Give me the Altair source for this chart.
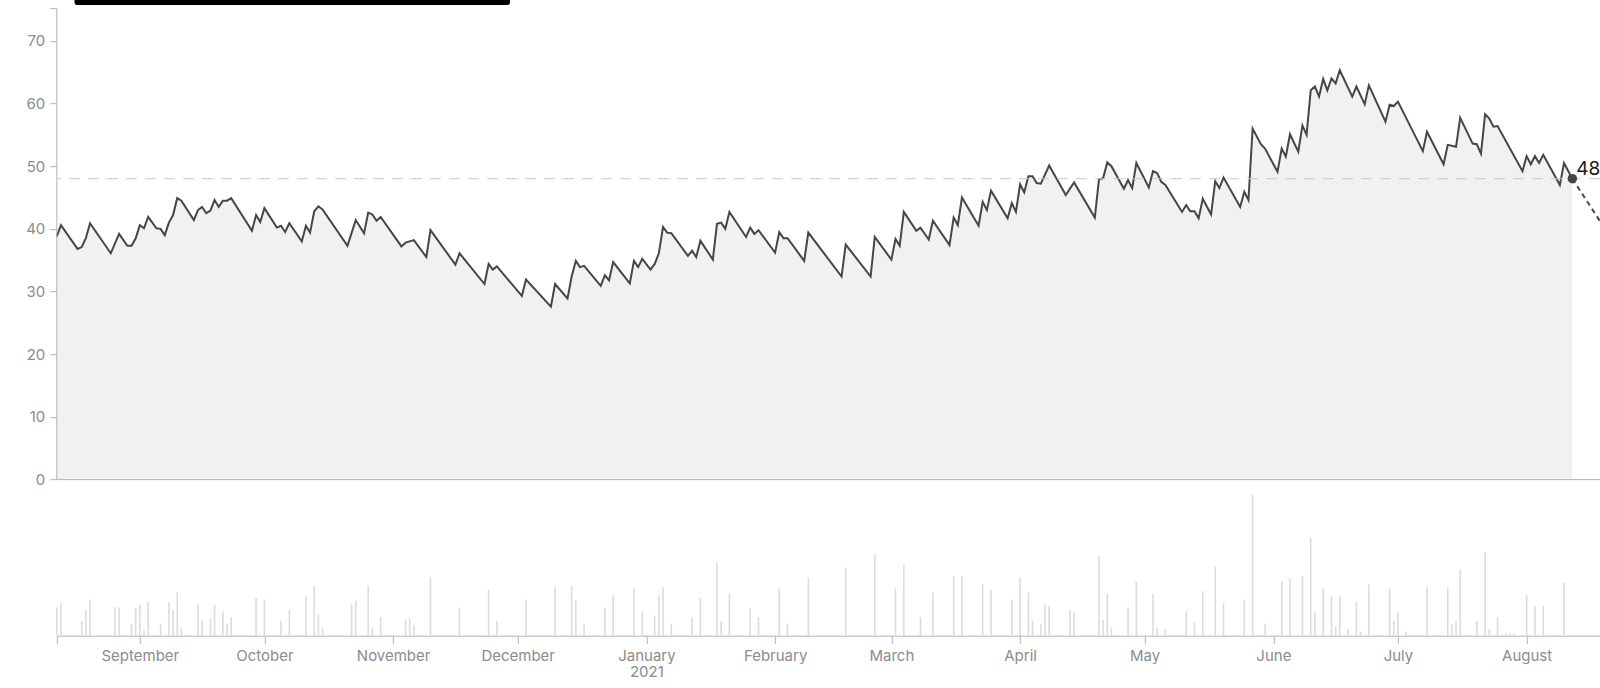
import altair as alt
import pandas as pd

START = pd.Timestamp("2020-08-12")

# ---- main series (turning points), day offset from 2020-08-12 ----
line_days = [0, 1, 5, 6, 7, 8, 13, 15, 17, 18, 19, 20, 21, 22, 24, 25, 26, 27, 28, 29, 30,
             33, 34, 35, 36, 37, 38, 39, 40, 41, 42, 47, 48, 49, 50, 53, 54, 55, 56, 59, 60,
             61, 62, 63, 64, 70, 72, 74, 75, 76, 77, 78, 83, 84, 86, 89, 90, 96, 97, 103, 104,
             105, 106, 112, 113, 119, 120, 123, 124, 125, 126, 127, 131, 132, 133, 134, 138,
             139, 140, 141, 143, 144, 145, 146, 147, 148, 152, 153, 154, 155, 158, 159, 160,
             161, 162, 166, 167, 168, 169, 173, 174, 175, 176, 180, 181, 189, 190, 196, 197,
             201, 202, 203, 204, 207, 208, 210, 211, 215, 216, 217, 218, 222, 223, 224, 225,
             229, 230, 231, 232, 233, 234, 235, 236, 237, 239, 243, 245, 250, 251, 252, 253,
             254, 257, 258, 259, 260, 263, 264, 265, 266, 267, 271, 272, 273, 274, 275, 276,
             278, 279, 280, 281, 285, 286, 287, 288, 290, 291, 294, 295, 296, 297, 299, 300,
             301, 302, 303, 304, 305, 306, 307, 308, 309, 312, 313, 315, 316, 320, 321, 322,
             323, 329, 330, 334, 335, 337, 338, 341, 342, 343, 344, 345, 346, 347, 353, 354,
             355, 356, 357, 358, 362, 363, 365]
line_values = [38.8, 40.6, 36.8, 37.1, 38.5, 40.9, 36.1, 39.2, 37.3, 37.3, 38.5, 40.6, 40.1,
               41.9, 40.1, 40.0, 39.0, 41.0, 42.2, 44.9, 44.5, 41.4, 43.0, 43.5, 42.5, 42.9,
               44.6, 43.5, 44.5, 44.5, 44.9, 39.7, 42.2, 41.1, 43.3, 40.2, 40.5, 39.5, 40.9,
               38.0, 40.5, 39.4, 42.8, 43.6, 43.1, 37.3, 41.4, 39.3, 42.6, 42.3, 41.3, 41.9,
               37.2, 37.8, 38.2, 35.5, 39.8, 34.3, 36.1, 31.2, 34.4, 33.5, 34.0, 29.3, 31.9,
               27.6, 31.2, 28.9, 32.4, 34.9, 33.9, 34.1, 30.9, 32.6, 31.8, 34.7, 31.3, 34.9,
               33.9, 35.2, 33.5, 34.4, 36.1, 40.3, 39.4, 39.3, 35.7, 36.5, 35.5, 38.1, 35.1,
               40.8, 41.0, 40.0, 42.7, 38.7, 40.2, 39.2, 39.8, 36.2, 39.5, 38.5, 38.5, 34.9,
               39.4, 32.4, 37.5, 32.4, 38.7, 35.1, 38.4, 37.3, 42.7, 39.7, 40.2, 38.3, 41.3,
               37.4, 41.8, 40.6, 45.0, 40.5, 44.3, 43.0, 46.1, 41.7, 44.1, 42.7, 47.1, 45.8,
               48.4, 48.4, 47.3, 47.2, 50.1, 45.4, 47.4, 41.8, 47.9, 48.1, 50.6, 50.0, 46.4,
               47.8, 46.5, 50.5, 46.6, 49.2, 48.9, 47.5, 47.0, 42.7, 43.8, 42.8, 42.8, 41.7,
               44.8, 42.3, 47.6, 46.5, 48.2, 43.5, 45.9, 44.6, 56.0, 53.5, 52.8, 49.1, 52.8,
               51.5, 55.1, 52.3, 56.5, 55.0, 62.1, 62.7, 61.1, 63.9, 62.1, 64.0, 63.2, 65.3,
               61.1, 62.7, 59.9, 62.9, 57.1, 59.8, 59.6, 60.3, 52.4, 55.5, 50.3, 53.4, 53.1,
               57.7, 53.6, 53.5, 52.0, 58.3, 57.6, 56.3, 56.4, 49.2, 51.6, 50.3, 51.6, 50.5,
               51.8, 47.0, 50.5, 48.0]

# ---- activity bars ----
vol_days = [0, 1, 6, 7, 8, 14, 15, 18, 19, 20, 21, 22, 25, 27, 28, 29, 30, 34, 35, 37, 38,
            40, 41, 42, 48, 50, 54, 56, 60, 62, 63, 64, 71, 72, 75, 76, 78, 84, 85, 86, 90,
            97, 104, 106, 113, 120, 124, 125, 127, 132, 134, 139, 141, 144, 145, 146, 148,
            153, 155, 159, 160, 162, 167, 169, 174, 176, 181, 190, 197, 202, 204, 208, 211,
            216, 218, 223, 225, 230, 232, 234, 235, 237, 238, 239, 244, 245, 251, 252, 253,
            254, 258, 260, 264, 265, 267, 272, 274, 276, 279, 281, 286, 288, 291, 294, 295,
            297, 300, 302, 303, 305, 307, 308, 309, 311, 313, 314, 316, 321, 322, 323, 325,
            330, 335, 336, 337, 338, 342, 344, 345, 347, 348, 349, 350, 351, 354, 356, 358, 363]
vol_values = [28.3, 32.3, 14.7, 25.7, 36.3, 28.3, 28.3, 12.0, 27.0, 31.0, 5.3, 33.7, 12.0,
              33.7, 25.7, 43.3, 8.0, 32.3, 16.0, 17.3, 31.0, 24.3, 12.0, 18.7, 38.0, 36.3,
              14.7, 25.7, 39.3, 50.0, 21.7, 8.0, 31.0, 35.0, 50.0, 8.0, 18.7, 16.0, 17.3,
              10.7, 58.3, 28.3, 46.0, 14.7, 36.3, 48.7, 50.0, 35.0, 12.0, 28.3, 40.7, 47.3,
              24.3, 20.0, 40.7, 48.7, 12.0, 18.7, 38.0, 73.3, 14.7, 42.0, 27.0, 18.7, 47.3,
              12.0, 58.3, 68.0, 81.3, 47.3, 70.7, 18.7, 43.3, 59.7, 59.7, 51.3, 46.0, 36.3,
              58.3, 43.3, 14.7, 12.0, 31.0, 29.7, 25.7, 23.0, 80.0, 16.0, 42.0, 8.0, 28.3,
              54.3, 42.0, 8.0, 6.7, 24.3, 13.3, 44.7, 69.3, 32.3, 36.3, 141.3, 12.0, 1.3,
              54.3, 57.0, 59.7, 97.7, 24.3, 47.3, 39.3, 9.3, 39.3, 6.7, 33.7, 4.0, 51.3,
              47.3, 14.7, 24.3, 4.0, 48.7, 48.7, 12.0, 14.7, 66.3, 14.7, 84.0, 6.7, 18.7,
              1.3, 2.3, 2.3, 2.3, 40.7, 29.7, 29.7, 52.7]

# ---- projection after the last value ----
proj_days = [365, 371.6]
proj_values = [48.0, 41.3]

y_ticks = [0, 10, 20, 30, 40, 50, 60, 70, 75.2]
month_ticks = [(2020, 8, 12), (2020, 9, 1), (2020, 10, 1), (2020, 11, 1), (2020, 12, 1),
               (2021, 1, 1), (2021, 2, 1), (2021, 3, 1), (2021, 4, 1), (2021, 5, 1),
               (2021, 6, 1), (2021, 7, 1), (2021, 8, 1)]


def to_dates(days):
    return [START + pd.Timedelta(days=d) for d in days]


line_df = pd.DataFrame({"date": to_dates(line_days), "value": line_values})
vol_df = pd.DataFrame({"date": to_dates(vol_days), "volume": vol_values})
proj_df = pd.DataFrame({"date": to_dates(proj_days), "value": proj_values})
last_df = line_df.tail(1)

FONT = "Inter"
W = 1543.2
H = 627.5
GREY = "#b3b3b3"
DARK = "#464646"

x_domain = [alt.DateTime(year=2020, month=8, date=12),
            alt.DateTime(year=2021, month=8, date=18, hours=16)]
x_scale = alt.Scale(domain=x_domain, padding=0)
# price occupies the upper part of the view; the lower strip holds the activity bars
y_scale = alt.Scale(domain=[-24.9, 75.2], nice=False, zero=False)
vol_scale = alt.Scale(domain=[0, H], nice=False)

label_expr = ("timeFormat(datum.value, '%Y-%m-%d') == '2020-08-12' ? '' : "
              "(month(datum.value) == 0 ? [timeFormat(datum.value, '%B'), timeFormat(datum.value, '%Y')] "
              ": timeFormat(datum.value, '%B'))")
x_axis = alt.Axis(title=None, values=[alt.DateTime(year=y, month=m, date=d) for y, m, d in month_ticks],
                  labelExpr=label_expr, tickSize=8, labelPadding=5, labelLineHeight=16, grid=False)
y_axis = alt.Axis(title=None, values=y_ticks, labelExpr="datum.value > 72 ? '' : datum.label",
                  tickSize=7, labelPadding=5, grid=False, domain=False)

base = alt.Chart(line_df).encode(
    x=alt.X("date:T", scale=x_scale, axis=x_axis),
    y=alt.Y("value:Q", scale=y_scale, axis=y_axis),
)
area = base.mark_area(color="#f1f1f1").encode(y2=alt.datum(0))
line = base.mark_line(color=DARK, strokeWidth=2)

zero_df = pd.DataFrame({"lo": [0], "hi": [y_ticks[-1]]})
baseline = alt.Chart(zero_df).mark_rule(color=GREY, strokeWidth=1).encode(y=alt.Y("lo:Q"))
y_domain_line = alt.Chart(zero_df).mark_rule(color=GREY, strokeWidth=1).encode(
    x=alt.value(0), y=alt.Y("lo:Q"), y2="hi:Q"
)

rule = alt.Chart(last_df).mark_rule(color="#c8c8c8", strokeWidth=1, strokeDash=[11, 8]).encode(
    y=alt.Y("value:Q")
)
proj = alt.Chart(proj_df).mark_line(color=DARK, strokeWidth=2, strokeDash=[5, 4], clip=True).encode(
    x="date:T", y="value:Q"
)
point = alt.Chart(last_df).mark_circle(color=DARK, size=90, opacity=1).encode(
    x="date:T", y="value:Q"
)
label = alt.Chart(last_df).mark_text(align="left", baseline="middle", dx=4, dy=-10,
                                     fontSize=19, font=FONT, color="#1a1a1a").encode(
    x="date:T", y="value:Q", text=alt.Text("value:Q", format=".0f")
)
banner = alt.Chart(pd.DataFrame({"k": [0]})).mark_rect(
    color="black", cornerRadiusBottomLeft=5, cornerRadiusBottomRight=5
).encode(x=alt.value(17.7), x2=alt.value(453.2), y=alt.value(-8.2), y2=alt.value(-3.2))

price = alt.layer(area, line, baseline, y_domain_line, rule, proj, point, label, banner)

bars = alt.Chart(vol_df).mark_bar(color="#dcdcdc", size=1.6).encode(
    x=alt.X("date:T", scale=x_scale, axis=x_axis),
    y=alt.Y("volume:Q", scale=vol_scale, axis=None),
)

chart = alt.layer(bars, price).resolve_scale(y="independent").properties(
    width=W, height=H,
    autosize=alt.AutoSizeParams(type="none"),
    padding={"left": 56.8, "top": 8.2, "right": 0, "bottom": 52.3},
).configure_view(stroke=None).configure_axis(
    labelFont=FONT, labelFontSize=15, labelColor="#8c8c8c",
    domainColor=GREY, tickColor=GREY, domainWidth=1, tickWidth=1,
)

chart.save("out.html", embed_options={"renderer": "svg", "actions": False})
